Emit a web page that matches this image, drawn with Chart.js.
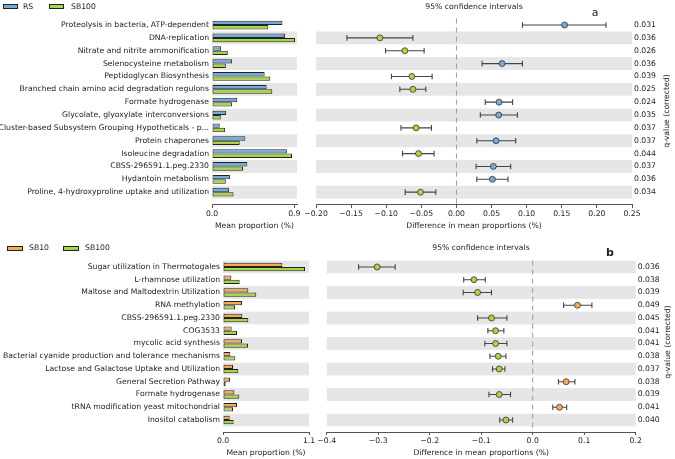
<!DOCTYPE html>
<html>
<head>
<meta charset="utf-8">
<script src="https://cdn.jsdelivr.net/npm/chart.js@4.4.0/dist/chart.umd.min.js"></script>
<style>
    body { margin: 0; background: #fff; }
    #wrap { position: relative; width: 675px; height: 459px; overflow: hidden; font-family: 'DejaVu Sans', sans-serif; color: #222; }
    #wrap canvas { position: absolute; left: 0; top: 0; }
    .txt { position: absolute; font-size: 7.7px; white-space: nowrap; line-height: 1; }
    .box { position: absolute; border: 1px solid #222; box-sizing: border-box; }
</style>
</head>
<body>
<div id="wrap">
    <canvas id="bar-a" width="675" height="459"></canvas>
    <canvas id="ci-a" width="675" height="459"></canvas>
    <canvas id="bar-b" width="675" height="459"></canvas>
    <canvas id="ci-b" width="675" height="459"></canvas>
</div>
<script>
// panel a
const aSeries = ['RS', 'SB100'];
const aLabels = [
    'Proteolysis in bacteria, ATP-dependent',
    'DNA-replication',
    'Nitrate and nitrite ammonification',
    'Selenocysteine metabolism',
    'Peptidoglycan Biosynthesis',
    'Branched chain amino acid degradation regulons',
    'Formate hydrogenase',
    'Glycolate, glyoxylate interconversions',
    'Cluster-based Subsystem Grouping Hypotheticals - p...',
    'Protein chaperones',
    'Isoleucine degradation',
    'CBSS-296591.1.peg.2330',
    'Hydantoin metabolism',
    'Proline, 4-hydroxyproline uptake and utilization'
];
const aMean1 = [0.771, 0.800, 0.100, 0.218, 0.576, 0.598, 0.277, 0.155, 0.085, 0.365, 0.819, 0.387, 0.196, 0.185];
const aMean2 = [0.616, 0.908, 0.173, 0.151, 0.638, 0.660, 0.218, 0.096, 0.144, 0.303, 0.875, 0.339, 0.151, 0.236];
const aDiff = [0.154, -0.109, -0.0735, 0.065, -0.0635, -0.062, 0.0607, 0.0602, -0.0574, 0.0564, -0.054, 0.0526, 0.0512, -0.0512];
const aLow = [0.094, -0.156, -0.101, 0.0365, -0.0925, -0.0806, 0.041, 0.034, -0.079, 0.029, -0.0768, 0.028, 0.029, -0.073];
const aHigh = [0.213, -0.062, -0.046, 0.094, -0.0346, -0.0436, 0.080, 0.0868, -0.0356, 0.0844, -0.0318, 0.0773, 0.0735, -0.0294];
const aQ = ['0.031', '0.036', '0.026', '0.036', '0.039', '0.025', '0.024', '0.035', '0.037', '0.037', '0.044', '0.037', '0.036', '0.034'];
const aMeanTicks = [0, 0.9];
const aDiffTicks = [-0.2, -0.15, -0.1, -0.05, 0, 0.05, 0.1, 0.15, 0.2, 0.25];

// panel b
const bSeries = ['SB10', 'SB100'];
const bLabels = [
    'Sugar utilization in Thermotogales',
    'L-rhamnose utilization',
    'Maltose and Maltodextrin Utilization',
    'RNA methylation',
    'CBSS-296591.1.peg.2330',
    'COG3533',
    'mycolic acid synthesis',
    'Bacterial cyanide production and tolerance mechanisms',
    'Lactose and Galactose Uptake and Utilization',
    'General Secretion Pathway',
    'Formate hydrogenase',
    'tRNA modification yeast mitochondrial',
    'Inositol catabolism'
];
const bMean1 = [0.759, 0.107, 0.324, 0.243, 0.247, 0.111, 0.243, 0.094, 0.128, 0.090, 0.145, 0.179, 0.085];
const bMean2 = [1.049, 0.213, 0.426, 0.154, 0.324, 0.179, 0.320, 0.158, 0.196, 0.034, 0.209, 0.128, 0.136];
const bDiff = [-0.302, -0.114, -0.107, 0.087, -0.080, -0.072, -0.072, -0.067, -0.065, 0.065, -0.065, 0.052, -0.052];
const bLow = [-0.338, -0.134, -0.135, 0.060, -0.107, -0.087, -0.093, -0.083, -0.078, 0.050, -0.085, 0.039, -0.064];
const bHigh = [-0.267, -0.092, -0.080, 0.115, -0.050, -0.056, -0.050, -0.052, -0.054, 0.082, -0.043, 0.066, -0.039];
const bQ = ['0.036', '0.038', '0.039', '0.049', '0.045', '0.041', '0.041', '0.038', '0.037', '0.038', '0.039', '0.041', '0.040'];
const bMeanTicks = [0, 1.1];
const bDiffTicks = [-0.4, -0.3, -0.2, -0.1, 0, 0.1, 0.2];

const blue = '#72aadc';
const green = '#a6d641';
const orange = '#f9a854';
const band = '#e6e6e6';
const tickFont = { family: 'DejaVu Sans', size: 7.7 };
const axisH = 25.6;

function fmt(v, d) {
    if (Math.abs(v) < 1e-9) v = 0;
    return v.toFixed(d).replace('-', '\u2212');
}

// grey stripes behind every other row
function bandPlugin(rows, parity) {
    return {
        id: 'bands',
        beforeDatasetsDraw(chart) {
            const { ctx, chartArea, scales } = chart;
            ctx.save();
            ctx.fillStyle = band;
            for (let i = 0; i < rows; i++) {
                if (i % 2 !== parity) continue;
                let y0 = scales.y.getPixelForValue(i - 0.5);
                let y1 = scales.y.getPixelForValue(i + 0.5);
                ctx.fillRect(chartArea.left, Math.min(y0, y1), chartArea.right - chartArea.left, Math.abs(y1 - y0));
            }
            ctx.restore();
        }
    };
}

// dashed zero line + confidence interval whiskers
function ciPlugin(low, high) {
    return {
        id: 'ci',
        beforeDatasetsDraw(chart) {
            const { ctx, chartArea, scales } = chart;
            ctx.save();
            let x0 = scales.x.getPixelForValue(0);
            ctx.strokeStyle = '#999';
            ctx.lineWidth = 1;
            ctx.setLineDash([5, 4]);
            ctx.beginPath();
            ctx.moveTo(x0, chartArea.top);
            ctx.lineTo(x0, chartArea.bottom);
            ctx.stroke();
            ctx.setLineDash([]);
            ctx.strokeStyle = '#444';
            ctx.lineWidth = 1.1;
            for (let i = 0; i < low.length; i++) {
                let y = scales.y.getPixelForValue(i);
                let xl = scales.x.getPixelForValue(low[i]);
                let xh = scales.x.getPixelForValue(high[i]);
                ctx.beginPath();
                ctx.moveTo(xl, y); ctx.lineTo(xh, y);
                ctx.moveTo(xl, y - 2.8); ctx.lineTo(xl, y + 2.8);
                ctx.moveTo(xh, y - 2.8); ctx.lineTo(xh, y + 2.8);
                ctx.stroke();
            }
            ctx.restore();
        }
    };
}

function xAxis(min, max, ticks, dec, title) {
    return {
        type: 'linear', min: min, max: max,
        afterBuildTicks: ax => { ax.ticks = ticks.map(v => ({ value: v })); },
        afterFit: ax => { ax.height = axisH; },
        grid: { drawOnChartArea: false, tickLength: 3, color: '#555' },
        border: { color: '#555' },
        ticks: { padding: 1, maxRotation: 0, autoSkip: false, color: '#222', font: tickFont, callback: v => fmt(v, dec) },
        title: { display: true, text: title, padding: 0, color: '#222', font: tickFont }
    };
}

function rowAxis(n, pad, names, width, pos) {
    return {
        type: 'linear', position: pos, reverse: true, offset: false,
        min: -0.5, max: n - 0.5 + pad,
        afterFit: ax => { ax.width = width; },
        afterBuildTicks: ax => { ax.ticks = names.map((l, i) => ({ value: i })); },
        grid: { display: false, drawTicks: false, offset: false },
        border: { display: false },
        ticks: { autoSkip: false, padding: pos === 'left' ? 3 : 2, color: '#222', font: tickFont, callback: v => names[v] }
    };
}

function meanChart(id, labels, m1, m2, names, colors, parity, area, xMax, ticks) {
    const n = labels.length;
    const config = {
        type: 'bar',
        data: {
            datasets: [{
                label: names[0],
                data: m1.map((v, i) => ({ x: v, y: i })),
                backgroundColor: colors[0], borderColor: '#222', borderWidth: 1, borderSkipped: false
            }, {
                label: names[1],
                data: m2.map((v, i) => ({ x: v, y: i })),
                backgroundColor: colors[1], borderColor: '#222', borderWidth: 1, borderSkipped: false
            }]
        },
        options: {
            indexAxis: 'y', responsive: false, animation: false,
            categoryPercentage: 0.68, barPercentage: 1,
            layout: { padding: { left: 0, top: area.top, right: 675 - area.right, bottom: 459 - area.bottom - axisH } },
            plugins: { legend: { display: false }, tooltip: { enabled: false } },
            scales: {
                x: xAxis(0, xMax, ticks, 1, 'Mean proportion (%)'),
                y: rowAxis(n, area.pad, labels, area.left, 'left')
            }
        },
        plugins: [bandPlugin(n, parity)]
    };
    new Chart(document.getElementById(id).getContext('2d'), config);
}

function diffChart(id, diff, low, high, qv, colors, parity, area, ticks, dec) {
    const n = diff.length;
    const config = {
        type: 'scatter',
        data: {
            datasets: [{
                data: diff.map((v, i) => ({ x: v, y: i })),
                pointRadius: 3,
                pointBackgroundColor: diff.map(v => v > 0 ? colors[0] : colors[1]),
                pointBorderColor: '#333', pointBorderWidth: 0.8
            }]
        },
        options: {
            responsive: false, animation: false,
            layout: { padding: { left: area.left, top: area.top, right: 0, bottom: 459 - area.bottom - axisH } },
            plugins: { legend: { display: false }, tooltip: { enabled: false } },
            scales: {
                x: xAxis(ticks[0], ticks[ticks.length - 1], ticks, dec, 'Difference in mean proportions (%)'),
                y: rowAxis(n, area.pad, qv, 675 - area.right, 'right')
            }
        },
        plugins: [bandPlugin(n, parity), ciPlugin(low, high)]
    };
    new Chart(document.getElementById(id).getContext('2d'), config);
}

function addText(str, x, y, css) {
    let el = document.createElement('div');
    el.className = 'txt';
    el.textContent = str;
    el.style.left = x + 'px';
    el.style.top = y + 'px';
    el.style.transform = 'translate(-50%, -50%)' + (css && css.rot ? ' rotate(' + css.rot + 'deg)' : '');
    if (css && css.size) el.style.fontSize = css.size;
    if (css && css.bold) el.style.fontWeight = 'bold';
    if (css && css.left) el.style.transform = 'translate(0, -50%)';
    document.getElementById('wrap').appendChild(el);
}

function addBox(x, y, w, h, color) {
    let el = document.createElement('div');
    el.className = 'box';
    el.style.left = x + 'px';
    el.style.top = y + 'px';
    el.style.width = w + 'px';
    el.style.height = h + 'px';
    el.style.background = color;
    document.getElementById('wrap').appendChild(el);
}

meanChart('bar-a', aLabels, aMean1, aMean2, aSeries, [blue, green], 1,
    { left: 212, right: 297, top: 18.6, bottom: 205, pad: 0.5 }, 0.93, aMeanTicks);
diffChart('ci-a', aDiff, aLow, aHigh, aQ, [blue, green], 1,
    { left: 316, right: 632, top: 18.6, bottom: 205, pad: 0.5 }, aDiffTicks, 2);
meanChart('bar-b', bLabels, bMean1, bMean2, bSeries, [orange, green], 0,
    { left: 223, right: 309, top: 260.6, bottom: 432, pad: 0.44 }, 1.1, bMeanTicks);
diffChart('ci-b', bDiff, bLow, bHigh, bQ, [orange, green], 0,
    { left: 326.7, right: 635.7, top: 260.6, bottom: 432, pad: 0.44 }, bDiffTicks, 1);

// legends, titles, panel letters
addBox(3, 4, 15, 5, blue);
addText(aSeries[0], 23, 6.5, { left: true });
addBox(49, 4, 15, 5, green);
addText(aSeries[1], 71, 6.5, { left: true });
addBox(7, 245.5, 16, 5, orange);
addText(bSeries[0], 29, 248, { left: true });
addBox(63, 245.5, 16, 5, green);
addText(bSeries[1], 85, 248, { left: true });

addText('95% confidence intervals', 474, 6.5);
addText('95% confidence intervals', 481, 248);
addText('a', 595, 12, { size: '11px' });
addText('b', 610, 252, { size: '11px', bold: true });
addText('q-value (corrected)', 667, 111, { rot: -90 });
addText('q-value (corrected)', 668, 342, { rot: -90 });
</script>
</body>
</html>
